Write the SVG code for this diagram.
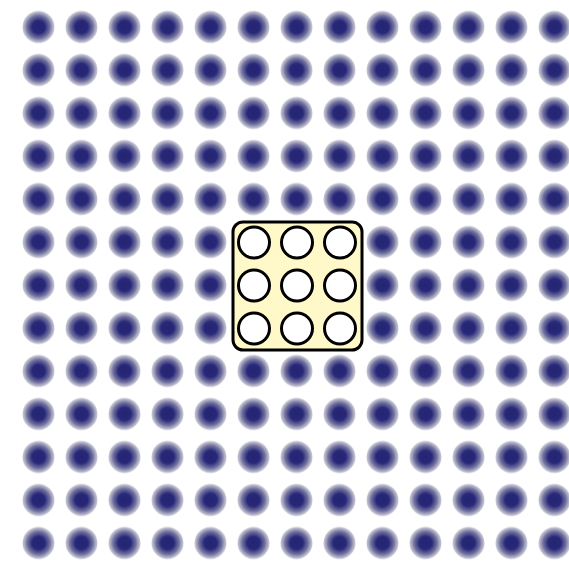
<svg xmlns="http://www.w3.org/2000/svg" width="569" height="563" viewBox="0 0 569 563">
<defs>
<radialGradient id="g" cx="0.5" cy="0.5" r="0.5">
<stop offset="0" stop-color="#24246f"/>
<stop offset="0.4" stop-color="#28287a"/>
<stop offset="0.72" stop-color="#5a5a8e" stop-opacity="0.85"/>
<stop offset="1" stop-color="#8a8aa8" stop-opacity="0.45"/>
</radialGradient>
<pattern id="p" x="17" y="5.5" width="43" height="43" patternUnits="userSpaceOnUse">
<circle cx="21.5" cy="21.5" r="16" fill="url(#g)"/>
</pattern>
<style>.c{fill:#fff;stroke:#000;stroke-width:3}</style>
</defs>
<rect width="569" height="563" fill="#fff"/>
<rect x="17" y="5.5" width="552" height="557.5" fill="url(#p)"/>
<g id="box">
<rect x="233" y="222" width="129" height="128" rx="10" fill="#fff9c9" stroke="#000" stroke-width="3"/>
<circle class="c" cx="254" cy="242.5" r="15.5"/>
<circle class="c" cx="297" cy="242.5" r="15.5"/>
<circle class="c" cx="340" cy="242.5" r="15.5"/>
<circle class="c" cx="254" cy="285.5" r="15.5"/>
<circle class="c" cx="297" cy="285.5" r="15.5"/>
<circle class="c" cx="340" cy="285.5" r="15.5"/>
<circle class="c" cx="254" cy="328.5" r="15.5"/>
<circle class="c" cx="297" cy="328.5" r="15.5"/>
<circle class="c" cx="340" cy="328.5" r="15.5"/>
</g>
</svg>
